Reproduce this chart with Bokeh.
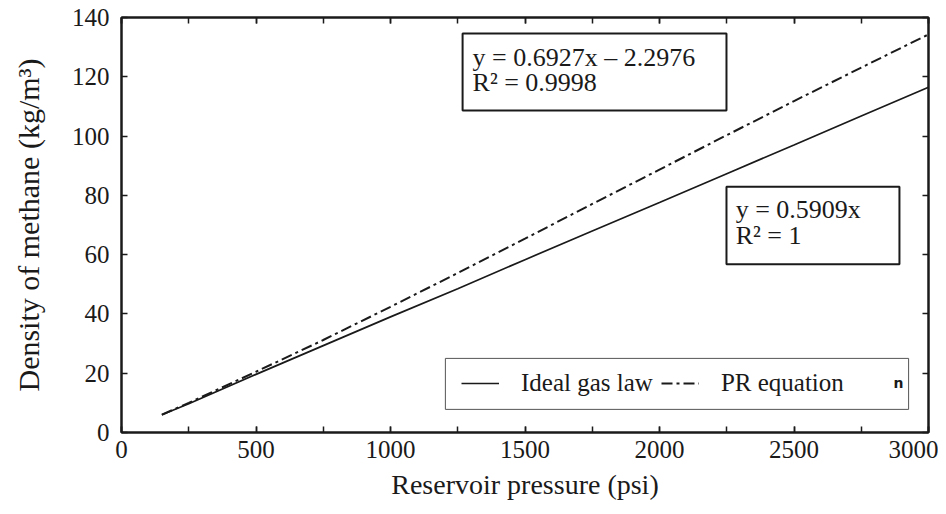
from bokeh.plotting import figure
from bokeh.models import (Range1d, LinearAxis, SingleIntervalTicker, BoxAnnotation,
                          Label, Legend, LegendItem)
from bokeh.embed import file_html
from bokeh.resources import INLINE

# ---- data ----
pressure_psi = [150, 250, 500, 750, 1000, 1250, 1500, 1750, 2000, 2250, 2500, 2750, 3000]
ideal_density = [6.0, 9.7, 19.6, 29.3, 39.0, 48.5, 58.3, 68.0, 77.6, 87.3, 97.0, 106.8, 116.5]
pr_density = [6.0, 10.0, 20.5, 31.2, 42.4, 53.8, 65.4, 77.1, 88.7, 100.3, 111.8, 123.1, 134.3]

series_names = ["Ideal gas law", "PR equation"]
fit_pr = ["y = 0.6927x \u2013 2.2976", "R\u00b2 = 0.9998"]
fit_ideal = ["y = 0.5909x", "R\u00b2 = 1"]

x_title = "Reservoir pressure (psi)"
y_title = "Density of methane (kg/m\u00b3)"

SERIF = "Liberation Serif"
INK = "#1a1a1a"

p = figure(width=938, height=506, output_backend="svg", toolbar_location=None,
           x_range=Range1d(0, 3000), y_range=Range1d(0, 140),
           min_border_left=121, min_border_right=10, min_border_top=17, min_border_bottom=74,
           background_fill_color="white", border_fill_color="white")
p.grid.visible = False
p.outline_line_color = INK
p.outline_line_width = 2

xticker = SingleIntervalTicker(interval=500, num_minor_ticks=2)
yticker = SingleIntervalTicker(interval=20, num_minor_ticks=0)

def style_axis(ax, ticker, labels=True):
    ax.ticker = ticker
    ax.axis_line_color = INK
    ax.axis_line_width = 2
    ax.major_tick_in = 6
    ax.major_tick_out = 0
    ax.minor_tick_in = 6
    ax.minor_tick_out = 0
    ax.major_tick_line_color = INK
    ax.minor_tick_line_color = INK
    ax.major_tick_line_width = 1.5
    ax.minor_tick_line_width = 1.5
    ax.major_label_text_font = SERIF
    if labels:
        ax.major_label_text_font_size = "25px"
        ax.major_label_text_color = INK
    else:
        ax.major_label_text_font_size = "1px"
        ax.major_label_text_color = None
        ax.major_label_standoff = 0

xa = p.xaxis[0]
ya = p.yaxis[0]
style_axis(xa, xticker)
style_axis(ya, yticker)
xa.major_label_standoff = 8
ya.major_label_standoff = 12
xa.axis_label = x_title
ya.axis_label = y_title
for ax in (xa, ya):
    ax.axis_label_text_font = SERIF
    ax.axis_label_text_font_style = "normal"
    ax.axis_label_text_color = INK
xa.axis_label_text_font_size = "28px"
ya.axis_label_text_font_size = "30px"
xa.axis_label_standoff = 8
ya.axis_label_standoff = 24

top = LinearAxis()
style_axis(top, SingleIntervalTicker(interval=500, num_minor_ticks=2), labels=False)
p.add_layout(top, "above")
right = LinearAxis()
style_axis(right, SingleIntervalTicker(interval=20, num_minor_ticks=0), labels=False)
p.add_layout(right, "right")

r_ideal = p.line(pressure_psi, ideal_density, line_color=INK, line_width=1.7)
r_pr = p.line(pressure_psi, pr_density, line_color=INK, line_width=2, line_dash="11 4 3 4")

# equation boxes
p.add_layout(BoxAnnotation(left=1268, right=2249, top=134.6, bottom=108.6,
                           fill_color="white", fill_alpha=1,
                           line_color=INK, line_alpha=1, line_width=2))
p.add_layout(BoxAnnotation(left=2249, right=2892, top=82.9, bottom=56.8,
                           fill_color="white", fill_alpha=1,
                           line_color=INK, line_alpha=1, line_width=2))

def eq_label(x, y, t):
    return Label(x=x, y=y, text=t, text_font=SERIF, text_font_size="26px",
                 text_baseline="middle", text_color=INK)

p.add_layout(eq_label(1305, 126.5, fit_pr[0]))
p.add_layout(eq_label(1305, 118.2, fit_pr[1]))
p.add_layout(eq_label(2283, 75.1, fit_ideal[0]))
p.add_layout(eq_label(2283, 66.6, fit_ideal[1]))

# legend frame and legend
p.add_layout(BoxAnnotation(left=1204, right=2926, top=25.0, bottom=7.8,
                           fill_color="white", fill_alpha=1,
                           line_color="#555555", line_alpha=1, line_width=1))
legend = Legend(items=[LegendItem(label=series_names[0], renderers=[r_ideal]),
                       LegendItem(label=series_names[1], renderers=[r_pr])],
                orientation="horizontal", location=(340, 35),
                border_line_color=None, background_fill_alpha=0,
                label_text_font=SERIF, label_text_font_size="25px", label_text_color=INK,
                glyph_width=38, label_standoff=22, spacing=8, padding=10, margin=0)
p.add_layout(legend)
p.add_layout(Label(x=2870, y=16.6, text="n", text_font="DejaVu Sans", text_font_size="14px",
                   text_font_style="bold", text_baseline="middle", text_color=INK))

open("out.html", "w").write(file_html(p, INLINE))
